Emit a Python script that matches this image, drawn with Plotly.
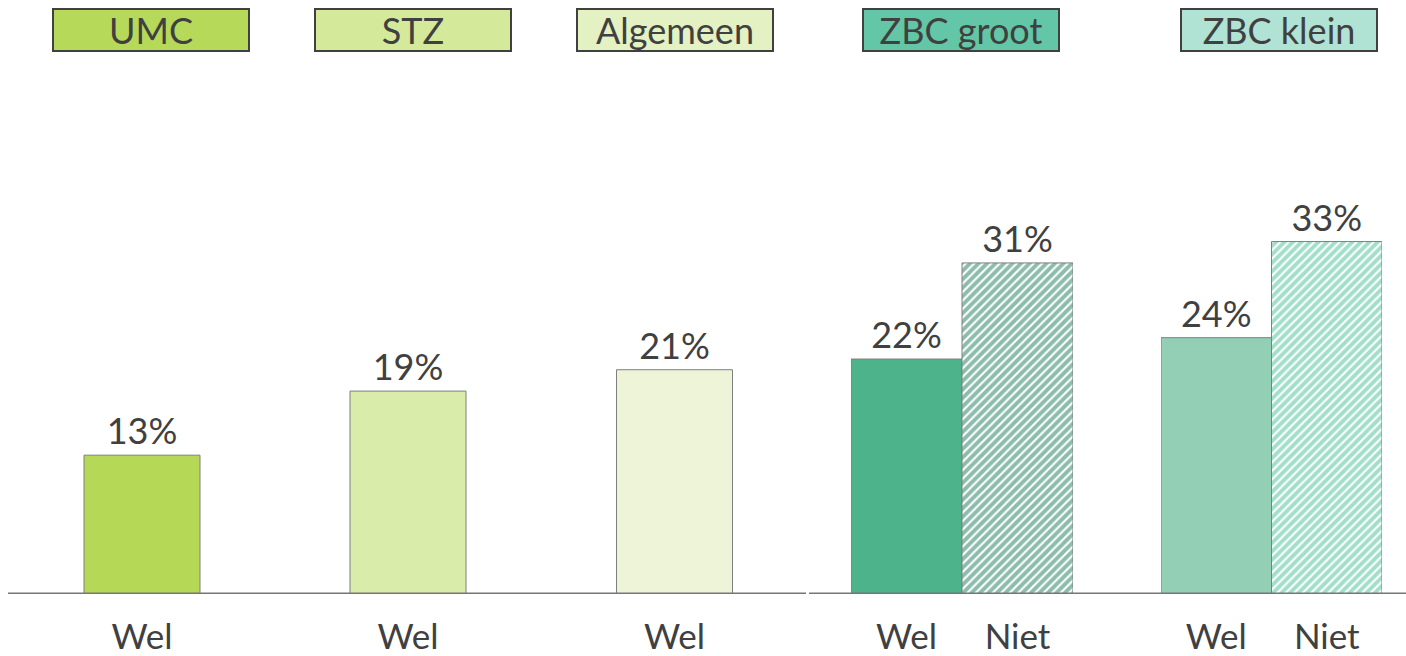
import plotly.graph_objects as go

# Data
groups = ["UMC", "STZ", "Algemeen", "ZBC groot", "ZBC klein"]
wel_values = [13, 19, 21, 22, 24]
niet_values = [None, None, None, 31, 33]
bar_labels = ["Wel", "Niet"]

# Styling
bar_colors = ["#b5d957", "#d9eca9", "#edf4d8", "#4db38a", "#92cfb4"]
hatch_colors = [None, None, None, "#1a7a57", "#45bf95"]
header_colors = ["#b7d95a", "#d5e99a", "#e4f1c2", "#63c6a6", "#b0e3d4"]
text_color = "#404040"
W = 1406

# pixel domains of each group and header centres
domains_px = [(9, 275), (275, 541), (541.5, 807.5), (851, 1073), (1161, 1382)]
header_px = [151, 413, 675, 961, 1279]

fig = go.Figure()

for i, g in enumerate(groups):
    ax = "x" if i == 0 else "x%d" % (i + 1)
    single = niet_values[i] is None
    fig.add_trace(go.Bar(
        x=[bar_labels[0]], y=[wel_values[i]],
        xaxis=ax, yaxis="y",
        width=116 / 266 if single else 1.0,
        marker=dict(color=bar_colors[i], line=dict(color="#7f7f7f", width=1)),
        texttemplate="%{y}%", textposition="outside",
        textfont=dict(size=36, color=text_color),
        cliponaxis=False, showlegend=False, hoverinfo="skip",
    ))
    if not single:
        fig.add_trace(go.Bar(
            x=[bar_labels[1]], y=[niet_values[i]],
            xaxis=ax, yaxis="y",
            width=1.0,
            marker=dict(color="white", line=dict(color="#7f7f7f", width=1),
                        pattern=dict(shape="/", fgcolor=hatch_colors[i],
                                     bgcolor="white", size=6, solidity=0.65)),
            texttemplate="%{y}%", textposition="outside",
            textfont=dict(size=36, color=text_color),
            cliponaxis=False, showlegend=False, hoverinfo="skip",
        ))
    d0, d1 = domains_px[i]
    fig.layout["xaxis" if i == 0 else "xaxis%d" % (i + 1)] = dict(
        domain=[d0 / W, d1 / W], anchor="y", type="category",
        categoryorder="array", categoryarray=bar_labels if not single else bar_labels[:1],
        showgrid=False, zeroline=False, showline=False,
        ticks="outside", ticklen=12, tickcolor="rgba(0,0,0,0)",
        tickfont=dict(size=35, color=text_color),
        fixedrange=True,
    )
    # header box
    fig.add_annotation(
        x=header_px[i] / W, y=1 + 30 / 539, xref="paper", yref="paper",
        xanchor="center", yanchor="middle",
        text=g, showarrow=False, width=194, height=40,
        bgcolor=header_colors[i], bordercolor="#404040", borderwidth=2, borderpad=0,
        font=dict(size=36, color=text_color),
    )

# baseline (two segments like the original)
for x0, x1 in [(8, 806), (809, 1406)]:
    fig.add_shape(type="line", xref="paper", yref="y",
                  x0=x0 / W, x1=x1 / W, y0=0, y1=0,
                  line=dict(color="#767676", width=3))

fig.update_layout(
    width=1406, height=656,
    margin=dict(l=0, r=0, t=60, b=57),
    barmode="overlay",
    plot_bgcolor="white", paper_bgcolor="white",
    font=dict(family="Lato, sans-serif", color=text_color),
    yaxis=dict(range=[0, 50], visible=False, fixedrange=True),
)

fig.write_html("out.html", config={"displayModeBar": False},
               post_script="document.body.style.margin='0';")
